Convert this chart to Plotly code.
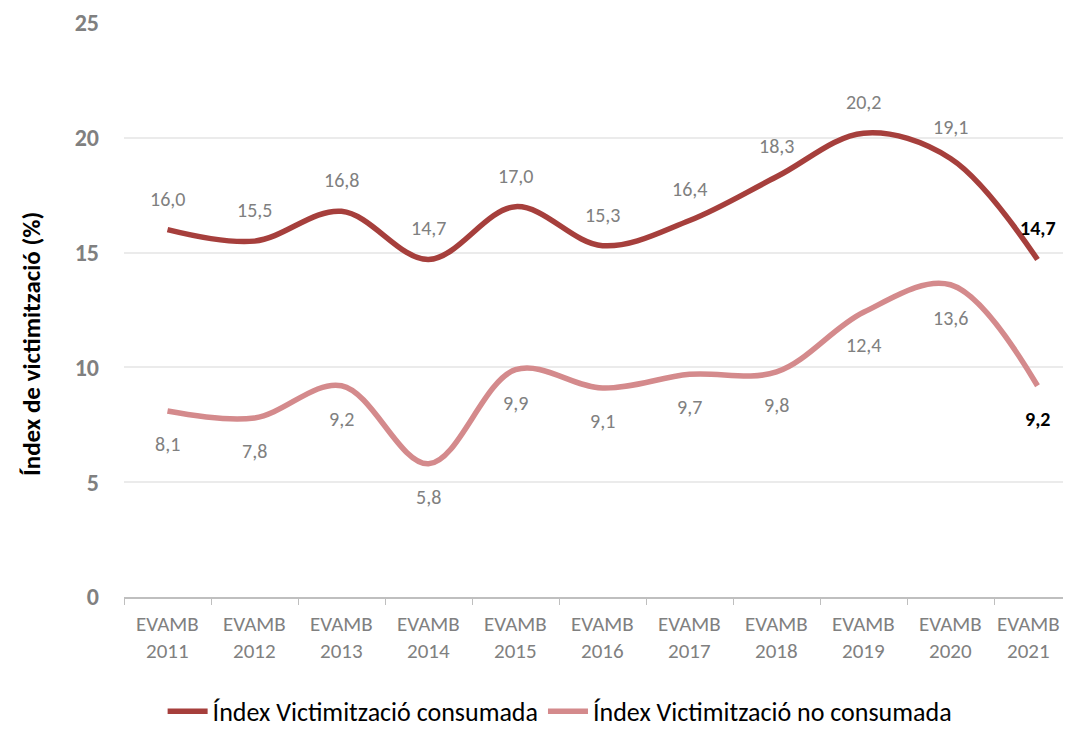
import plotly.graph_objects as go

categories = ["EVAMB<br>2011", "EVAMB<br>2012", "EVAMB<br>2013", "EVAMB<br>2014", "EVAMB<br>2015",
              "EVAMB<br>2016", "EVAMB<br>2017", "EVAMB<br>2018", "EVAMB<br>2019", "EVAMB<br>2020",
              "EVAMB<br>2021"]
consumada = [16.0, 15.5, 16.8, 14.7, 17.0, 15.3, 16.4, 18.3, 20.2, 19.1, 14.7]
no_consumada = [8.1, 7.8, 9.2, 5.8, 9.9, 9.1, 9.7, 9.8, 12.4, 13.6, 9.2]
y_ticks = [0, 5, 10, 15, 20, 25]

c_dark = "#A63F3C"
c_pink = "#D48A8C"
FONT = "Carlito, Lato, 'Open Sans', sans-serif"

fig = go.Figure()
fig.add_trace(go.Scatter(x=categories, y=consumada, mode="lines", name="Índex Victimització consumada",
                         line=dict(color=c_dark, width=5.5, shape="spline", smoothing=1)))
fig.add_trace(go.Scatter(x=categories, y=no_consumada, mode="lines", name="Índex Victimització no consumada",
                         line=dict(color=c_pink, width=5.5, shape="spline", smoothing=1)))

def fmt(v):
    return f"{v:.1f}".replace(".", ",")

n = len(categories)
for i, (c, v) in enumerate(zip(categories, consumada)):
    last = i == n - 1
    fig.add_annotation(x=c, y=v, text=f"<b>{fmt(v)}</b>" if last else fmt(v), showarrow=False,
                       yshift=31, font=dict(size=20, color="#000000" if last else "#808080", family=FONT))
for i, (c, v) in enumerate(zip(categories, no_consumada)):
    last = i == n - 1
    fig.add_annotation(x=c, y=v, text=f"<b>{fmt(v)}</b>" if last else fmt(v), showarrow=False,
                       yshift=-33, font=dict(size=20, color="#000000" if last else "#808080", family=FONT))

# category labels (last one nudged inward, as in the original)
for i, c in enumerate(categories):
    fig.add_annotation(x=c, y=0, xref="x", yref="paper", text=c, showarrow=False,
                       yanchor="middle", yshift=-40, xshift=-9 if i == n - 1 else 0,
                       font=dict(size=21, color="#808080", family=FONT))

# y-axis title
fig.add_annotation(text="Índex de victimització (%)", xref="paper", yref="paper", x=-0.0971, y=0.441,
                   xanchor="center", yanchor="middle", textangle=-90, showarrow=False,
                   font=dict(size=25, color="#000000", family=FONT, weight="bold"))

fig.update_layout(
    width=1063, height=723,
    margin=dict(l=116, r=0, t=15, b=134, autoexpand=False),
    plot_bgcolor="white", paper_bgcolor="white",
    font=dict(family=FONT),
    showlegend=True,
    legend=dict(orientation="h", x=0.46, xanchor="center", y=-0.199, yanchor="middle",
                font=dict(size=26, color="#000000", family=FONT), itemwidth=40),
    xaxis=dict(type="category", range=[-0.5, 10.385], tickson="boundaries", ticks="outside",
               ticklen=6, tickcolor="#BFBFBF", showline=True, linecolor="#BFBFBF", linewidth=1.5,
               showgrid=False, automargin=False, showticklabels=False),
    yaxis=dict(range=[0, 25], tickvals=y_ticks, showgrid=True, gridcolor="#EBEBEB", gridwidth=1.5,
               zeroline=False, showline=False, ticks="", ticklabelstandoff=24, automargin=False,
               tickfont=dict(size=24, color="#808080", family=FONT, weight="bold")),
)

fig.write_html("out.html")
